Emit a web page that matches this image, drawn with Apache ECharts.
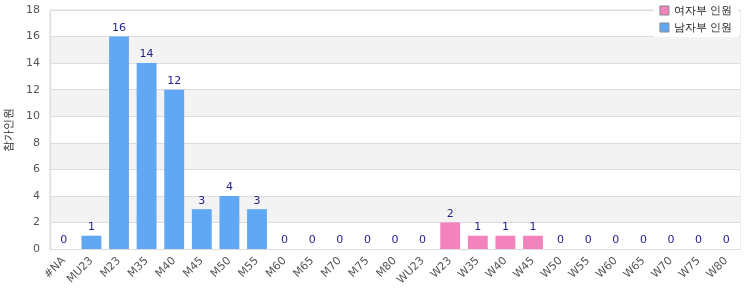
<!DOCTYPE html>
<html><head><meta charset="utf-8">
<script src="https://cdn.jsdelivr.net/npm/echarts@6/dist/echarts.min.js"></script>
<style>html,body{margin:0;padding:0;background:#fff}#c{width:750px;height:300px}</style>
</head><body><div id="c"></div>
<script>
const categories = ['#NA','MU23','M23','M35','M40','M45','M50','M55','M60','M65','M70','M75','M80','WU23','W23','W35','W40','W45','W50','W55','W60','W65','W70','W75','W80'];
const menValues = [0,1,16,14,12,3,4,3,0,0,0,0,0,null,null,null,null,null,null,null,null,null,null,null,null];
const womenValues = [null,null,null,null,null,null,null,null,null,null,null,null,null,0,2,1,1,1,0,0,0,0,0,0,0];
const seriesNames = ['여자부 인원','남자부 인원'];
const yAxisName = '참가인원';
const yTicks = {min:0, max:18, interval:2};

const chart = echarts.init(document.getElementById('c'));
const lbl = {show:true, position:'top', color:'#1f1f8f', fontSize:11, fontFamily:'DejaVu Sans', distance:3};
chart.setOption({
  animation:false,
  grid:{left:50, right:10, top:10, bottom:51, show:true, borderColor:'#dcdcdc', borderWidth:1, outerBoundsMode:'none', containLabel:false},
  legend:{
    orient:'vertical', right:12, top:3, itemWidth:9, itemHeight:9, itemGap:6,
    backgroundColor:'#fff', padding:[2,6,4,6],
    textStyle:{fontSize:11, color:'#222'},
    data:[
      {name:seriesNames[0], icon:'rect', itemStyle:{borderColor:'#888', borderWidth:1}},
      {name:seriesNames[1], icon:'rect', itemStyle:{borderColor:'#888', borderWidth:1}}
    ]
  },
  xAxis:{
    type:'category', data:categories,
    axisLine:{lineStyle:{color:'#dcdcdc'}}, axisTick:{show:false},
    axisLabel:{rotate:45, interval:0, color:'#555', fontSize:11, fontFamily:'DejaVu Sans', margin:10}
  },
  yAxis:{
    type:'value', min:yTicks.min, max:yTicks.max, interval:yTicks.interval,
    name:yAxisName, nameLocation:'middle', nameGap:36, nameRotate:90,
    nameTextStyle:{fontSize:11, color:'#222'},
    axisLine:{show:true, lineStyle:{color:'#dcdcdc'}}, axisTick:{show:false},
    axisLabel:{color:'#555', fontSize:11, fontFamily:'DejaVu Sans', margin:10},
    splitLine:{show:true, lineStyle:{color:'#dcdcdc'}},
    splitArea:{show:true, areaStyle:{color:['#ffffff','#f3f3f3']}}
  },
  series:[
    {name:seriesNames[0], type:'bar', stack:'s', data:womenValues, barWidth:'72%',
     itemStyle:{color:'#f383bd'}, label:lbl},
    {name:seriesNames[1], type:'bar', stack:'s', data:menValues, barWidth:'72%',
     itemStyle:{color:'#61a8f4'}, label:lbl}
  ]
});
</script></body></html>
